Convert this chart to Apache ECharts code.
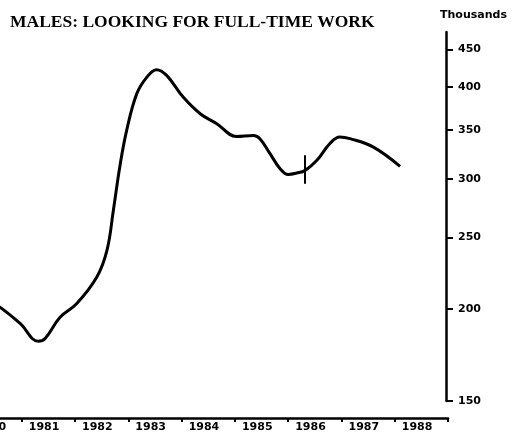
<!DOCTYPE html>
<html>
<head>
<meta charset="utf-8">
<script src="https://cdn.jsdelivr.net/npm/echarts@6/dist/echarts.min.js"></script>
<style>
html,body{margin:0;padding:0;background:#fff;}
#chart{width:514px;height:439px;}
</style>
</head>
<body>
<div id="chart"></div>
<script>
// Data: time (fractional year) and value (thousands)
var years = [1980.31, 1980.59, 1980.97, 1981.31, 1981.44, 1981.72, 1982.03, 1982.41, 1982.60, 1982.72, 1982.84, 1982.97, 1983.16, 1983.35, 1983.53, 1983.72, 1984.03, 1984.35, 1984.66, 1985.03, 1985.35, 1985.47, 1985.66, 1985.85, 1986.00, 1986.16, 1986.32, 1986.54, 1986.78, 1986.97, 1987.16, 1987.60, 1988.10];
var values = [206.6, 201.1, 191.1, 180.8, 182.4, 194.9, 203.2, 220.9, 240.1, 272.0, 311.4, 349.3, 391.8, 412.6, 422.3, 414.8, 387.6, 368.0, 356.7, 342.8, 343.9, 340.4, 324.8, 309.9, 304.4, 305.7, 308.3, 318.1, 335.1, 342.1, 340.4, 331.5, 312.1];
// Break marker (vertical bar on the line)
var markerYear = [1986.32];
var markerRange = [295.7, 323.1];
// Axis ticks
var yearTicks = [1980, 1981, 1982, 1983, 1984, 1985, 1986, 1987, 1988, 1989];
var yearLabels = [1980, 1981, 1982, 1983, 1984, 1985, 1986, 1987, 1988];
var valueTicks = [150, 200, 250, 300, 350, 400, 450];
var titleText = 'MALES: LOOKING FOR FULL-TIME WORK';
var unitText = 'Thousands';

var seriesData = years.map(function (y, i) { return [y, values[i]]; });
var labelPos = yearLabels.map(function (y) { return y + 0.42; });

var chart = echarts.init(document.getElementById('chart'), null, {renderer: 'canvas'});
chart.setOption({
  animation: false,
  backgroundColor: '#ffffff',
  title: [
    {
      text: titleText, left: 5, top: 8,
      textStyle: {fontFamily: 'Liberation Serif', fontWeight: 'bold', fontSize: 17.5, color: '#000'}
    },
    {
      text: unitText, left: 435, top: 5,
      textStyle: {fontFamily: 'DejaVu Sans', fontWeight: 'bold', fontSize: 11, color: '#000'}
    }
  ],
  grid: {left: -31.6, right: 66, top: 32, bottom: 38, containLabel: false, outerBoundsMode: 'none'},
  xAxis: {
    type: 'value', min: 1980, max: 1989, interval: 1,
    position: 'bottom', offset: 17,
    axisLine: {show: true, lineStyle: {color: '#000', width: 2.5}},
    axisTick: {show: true, inside: false, length: 4, lineStyle: {color: '#000', width: 2}, customValues: yearTicks},
    axisLabel: {
      show: true, margin: 4, customValues: labelPos,
      formatter: function (v) { return String(Math.floor(v)); },
      fontFamily: 'DejaVu Sans', fontWeight: 'bold', fontSize: 11, color: '#000'
    },
    splitLine: {show: false}
  },
  yAxis: {
    type: 'log', logBase: 10, min: 150, max: 475,
    position: 'right', offset: -2,
    axisLine: {show: true, lineStyle: {color: '#000', width: 2.5}},
    axisTick: {show: true, inside: false, length: 7, lineStyle: {color: '#000', width: 2}, customValues: valueTicks},
    axisLabel: {
      show: true, margin: 12, customValues: valueTicks,
      fontFamily: 'DejaVu Sans', fontWeight: 'bold', fontSize: 11, color: '#000'
    },
    splitLine: {show: false}
  },
  series: [
    {
      type: 'line', data: seriesData, smooth: 0.4, showSymbol: false,
      lineStyle: {color: '#000', width: 3},
      markLine: {
        silent: true, symbol: ['none', 'none'], label: {show: false},
        lineStyle: {color: '#000', width: 2, type: 'solid'},
        data: [[{coord: [markerYear[0], markerRange[0]]}, {coord: [markerYear[0], markerRange[1]]}]]
      }
    }
  ]
});
</script>
</body>
</html>
